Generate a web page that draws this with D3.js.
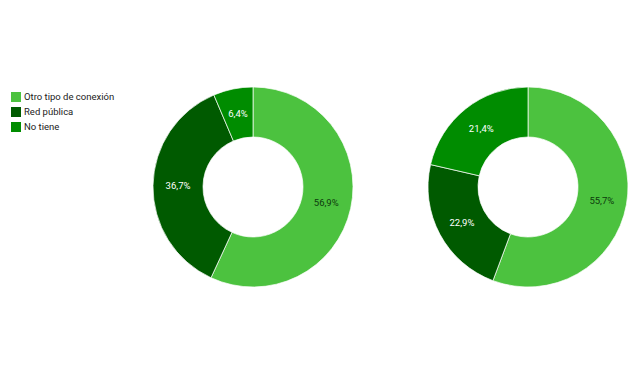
<!DOCTYPE html>
<meta charset="utf-8">
<script src="https://d3js.org/d3.v7.min.js"></script>
<style>
body { margin: 0; background: #fff; font-family: Roboto, sans-serif; }
</style>
<div id="chart"></div>
<script>

// categories and values (percent)
var categories = ["Otro tipo de conexión", "Red pública", "No tiene"];
var leftValues = [56.9, 36.7, 6.4];
var rightValues = [55.7, 22.9, 21.4];
var colors = ["#4cc23f", "#005a00", "#008c00"];
var labelColors = ["#0d3b0d", "#ffffff", "#ffffff"];

var width = 640, height = 376;

var svg = d3.select("#chart")
  .append("svg")
    .attr("width", width)
    .attr("height", height);

var color = d3.scaleOrdinal().domain(categories).range(colors);
var labelColor = d3.scaleOrdinal().domain(categories).range(labelColors);

var pie = d3.pie().sort(null).value(function(d) { return d.v; });
var arc = d3.arc().innerRadius(50).outerRadius(100);
var labelArc = d3.arc().innerRadius(75).outerRadius(75);

var fmt = function(v) { return v.toFixed(1).replace(".", ",") + "%"; };

function drawDonut(values, cx, cy) {
  var data = categories.map(function(c, i) { return {c: c, v: values[i]}; });
  var g = svg.append("g").attr("transform", "translate(" + cx + "," + cy + ")");
  var arcs = pie(data);

  g.selectAll("path")
    .data(arcs)
    .enter()
    .append("path")
      .attr("d", arc)
      .attr("fill", function(d) { return color(d.data.c); })
      .attr("stroke", "#fff")
      .attr("stroke-width", 0.7);

  g.selectAll("text")
    .data(arcs)
    .enter()
    .append("text")
      .attr("transform", function(d) { return "translate(" + labelArc.centroid(d) + ")"; })
      .attr("text-anchor", "middle")
      .attr("dy", "0.35em")
      .style("font-size", "9.5px")
      .attr("fill", function(d) { return labelColor(d.data.c); })
      .text(function(d) { return fmt(d.data.v); });
}

drawDonut(leftValues, 253, 187);
drawDonut(rightValues, 528, 187);

// legend
var legend = svg.append("g").attr("transform", "translate(11,92)");
var rows = legend.selectAll("g")
  .data(categories)
  .enter()
  .append("g")
    .attr("transform", function(d, i) { return "translate(0," + (i * 15) + ")"; });

rows.append("rect")
  .attr("width", 10)
  .attr("height", 10)
  .attr("fill", function(d) { return color(d); });

rows.append("text")
  .attr("x", 13)
  .attr("y", 5)
  .attr("dy", "0.35em")
  .style("font-size", "9.5px")
  .attr("fill", "#222")
  .text(function(d) { return d; });

</script>
